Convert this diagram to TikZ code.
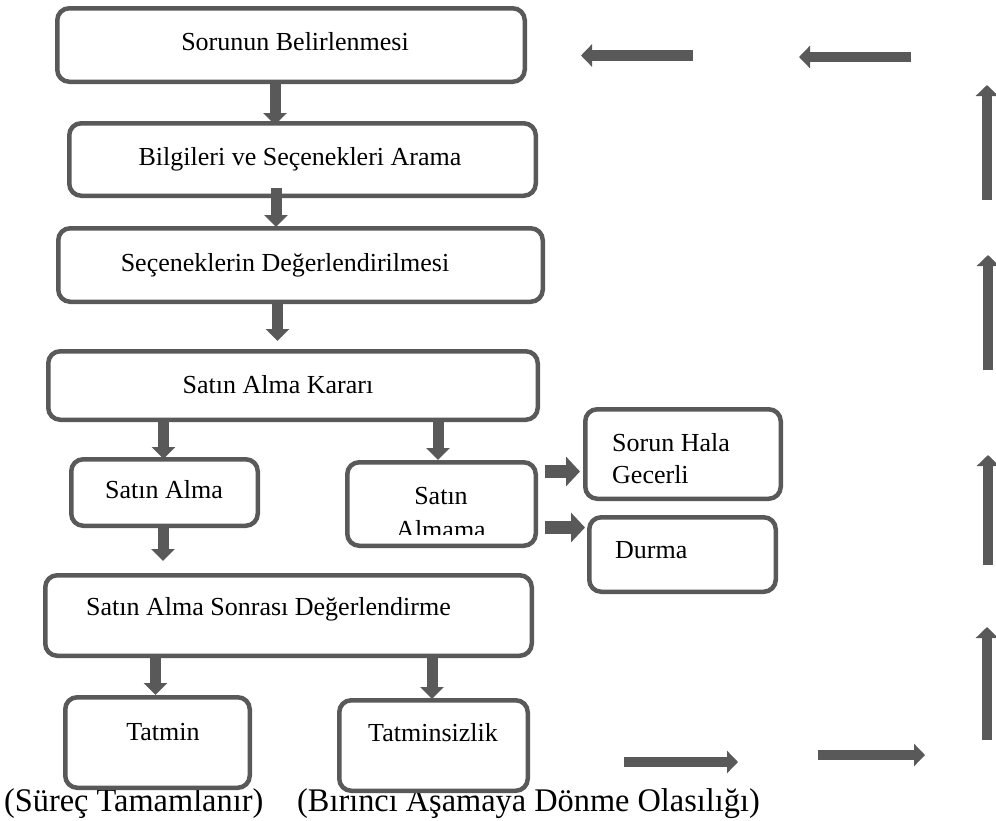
\documentclass[tikz,border=0pt]{standalone}
\usepackage{fontspec}
\setmainfont{Liberation Serif}
\usetikzlibrary{arrows.meta}
\definecolor{dg}{HTML}{595959}
\begin{document}
\begin{tikzpicture}[x=1pt,y=-1pt,
  box/.style={draw=dg, line width=4.5pt, rounded corners=12pt, inner sep=0pt},
  lbl/.style={font=\fontsize{26}{32}\selectfont, inner sep=0pt, anchor=base},
  lbll/.style={font=\fontsize{26}{32}\selectfont, inner sep=0pt, anchor=base west},
  big/.style={font=\fontsize{33}{38}\selectfont, inner sep=0pt, anchor=base west, xscale=0.98},
  blk/.style={dg, line width=11pt, -{Triangle[length=12pt,width=23pt]}},
  blkh/.style={dg, line width=13pt, -{Triangle[length=14pt,width=29pt]}},
  blkl/.style={dg, line width=10.5pt, -{Triangle[length=11pt,width=22pt]}}
]
\useasboundingbox (0,0) rectangle (996,820);

% bottom captions (drawn first, boxes overlap them)
\node[big] (c1) at (4,811.5) {(Süreç Tamamlanır)};
\node[big] (c2) at (297,811.5) {(Bırıncı Aşamaya Dönme Olasılığı)};

% boxes
\node[box, minimum width=467.5pt, minimum height=73.5pt] (b1) at (291,45) {};
\node[box, minimum width=466.5pt, minimum height=72.5pt] (b2) at (302.5,159.5) {};
\node[box, minimum width=484.5pt, minimum height=73.5pt] (b3) at (300.5,265) {};
\node[box, minimum width=489.5pt, minimum height=68.5pt] (b4) at (293,385.5) {};
\node[box, minimum width=186.5pt, minimum height=66.5pt] (b5) at (164.5,492.5) {};
\node[box, minimum width=188.5pt, minimum height=83.5pt] (b6) at (441.5,504) {};
\node[box, minimum width=195.5pt, minimum height=89.5pt] (b7) at (683,454) {};
\node[box, minimum width=186.5pt, minimum height=74.5pt] (b8) at (682.5,554.5) {};
\node[box, minimum width=486.5pt, minimum height=80.5pt] (b9) at (288.5,615.5) {};
\node[box, minimum width=184.5pt, minimum height=90.5pt] (b10) at (157.5,742.5) {};
\node[box, minimum width=188.5pt, minimum height=90.5pt] (b11) at (433.5,745.5) {};

% texts
\node[lbl] (t1) at (295,50) {Sorunun Belirlenmesi};
\node[lbl] (t2) at (300,165) {Bilgileri ve Seçenekleri Arama};
\node[lbl] (t3) at (285,271) {Seçeneklerin Değerlendirilmesi};
\node[lbl] (t4) at (278,393) {Satın Alma Kararı};
\node[lbl] (t5) at (164,498) {Satın Alma};
\node[lbl] (t6a) at (441,504) {Satın};
\begin{scope}
\clip (346,459) rectangle (537,534);
\node[lbl] (t6b) at (441,538) {Almama};
\end{scope}
\node[lbll] (t7a) at (612,451) {Sorun Hala};
\node[lbll] (t7b) at (612,483) {Gecerli};
\node[lbll] (t8) at (615,558) {Durma};
\node[lbll] (t9) at (86,615) {Satın Alma Sonrası Değerlendirme};
\node[lbl] (t10) at (163,740) {Tatmin};
\node[lbl] (t11) at (433,741) {Tatminsizlik};

% connectors
\draw[blk] ([xshift=-16pt]b1.south) -- ([xshift=-27.5pt,yshift=-4pt]b2.north);
\draw[blk] ([xshift=-26.5pt,yshift=10pt]b2.south) -- ([xshift=-24.5pt,yshift=-1pt]b3.north);
\draw[blk] ([xshift=-23pt]b3.south) -- ([xshift=-15.5pt,yshift=8pt]b4.north);
\draw[blk] ([xshift=-129.5pt]b4.south) -- ([xshift=-1pt,yshift=-2pt]b5.north);
\draw[blk] ([xshift=145pt]b4.south) -- ([xshift=-3.5pt]b6.north);
\draw[blk] ([xshift=-1.5pt,yshift=3pt]b5.south) -- ([xshift=-125.5pt,yshift=12pt]b9.north);
\draw[blkh] ([xshift=7.25pt,yshift=32.5pt]b6.east) -- ([xshift=-3pt,yshift=-17.5pt]b7.west);
\draw[blkh] ([xshift=7.25pt,yshift=-23.5pt]b6.east) -- ([xshift=-2pt,yshift=27pt]b8.west);
\draw[blk] ([xshift=-133pt]b9.south) -- ([xshift=-2pt]b10.north);
\draw[blk] ([xshift=143.5pt]b9.south) -- ([xshift=-1.5pt,yshift=-1pt]b11.north);

% loose return arrows
\coordinate (l1s) at (693,55.5); \coordinate (l1e) at (581,55.5);
\coordinate (l2s) at (911,57);   \coordinate (l2e) at (799,57);
\coordinate (u1s) at (987,200);  \coordinate (u1e) at (987,85);
\coordinate (u2s) at (988,370);  \coordinate (u2e) at (988,255);
\coordinate (u3s) at (988,565);  \coordinate (u3e) at (988,455);
\coordinate (u4s) at (987,740);  \coordinate (u4e) at (987,627);
\coordinate (r1s) at (624,762);  \coordinate (r1e) at (738,762);
\coordinate (r2s) at (818,755);  \coordinate (r2e) at (925,755);
\draw[blkl] (l1s) -- (l1e);
\draw[blkl] (l2s) -- (l2e);
\draw[blkl] (u1s) -- (u1e);
\draw[blkl] (u2s) -- (u2e);
\draw[blkl] (u3s) -- (u3e);
\draw[blkl] (u4s) -- (u4e);
\draw[blkl] (r1s) -- (r1e);
\draw[blkl] (r2s) -- (r2e);
\end{tikzpicture}
\end{document}
